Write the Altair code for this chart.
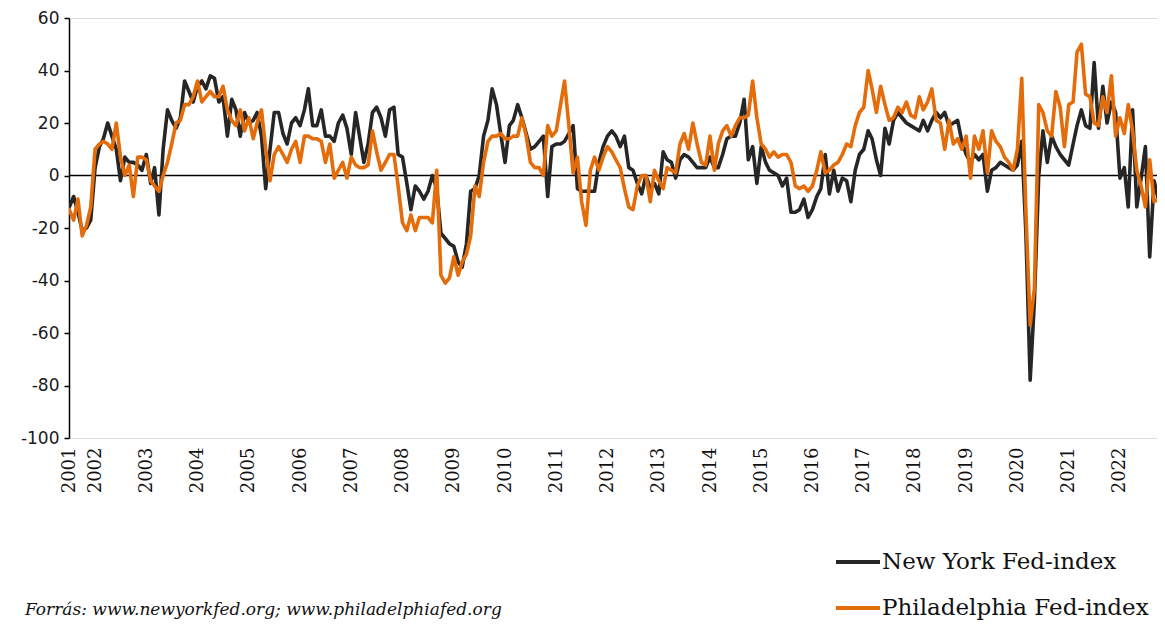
import altair as alt
import pandas as pd

# ---- data: monthly values, July 2001 - November 2022 ----
series_names = ["New York Fed-index", "Philadelphia Fed-index"]
source_text = "Forrás:  www.newyorkfed.org;  www.philadelphiafed.org"

ny_2001 = [-12, -8, -14, -21, -20, -17]
ny_2002 = [3, 11, 14, 20, 15, 10, -2, 7, 5, 5, 4, 2]
ny_2003 = [8, -3, 3, -15, 10, 25, 21, 18, 22, 36, 32, 28]
ny_2004 = [34, 36, 33, 38, 37, 28, 30, 15, 29, 25, 15, 24]
ny_2005 = [20, 21, 24, 15, -5, 10, 24, 24, 16, 12, 20, 22]
ny_2006 = [19, 25, 33, 19, 19, 25, 15, 15, 13, 20, 23, 18]
ny_2007 = [8, 24, 15, 5, 12, 24, 26, 22, 15, 25, 26, 8]
ny_2008 = [7, -3, -13, -4, -6, -9, -6, 0, -5, -22, -24, -26]
ny_2009 = [-27, -33, -35, -26, -6, -5, 0, 15, 21, 33, 27, 16]
ny_2010 = [5, 19, 21, 27, 22, 16, 10, 11, 13, 15, -8, 11]
ny_2011 = [12, 12, 13, 16, 19, -5, -6, -6, -6, -6, 5, 11]
ny_2012 = [15, 17, 15, 11, 15, 3, 2, -3, -7, 0, -5, -3]
ny_2013 = [-7, 9, 6, 5, -1, 6, 8, 7, 5, 3, 3, 3]
ny_2014 = [7, 3, 3, 8, 14, 15, 15, 20, 29, 6, 11, -3]
ny_2015 = [11, 5, 2, 1, 0, -4, -1, -14, -14, -13, -9, -16]
ny_2016 = [-13, -8, -5, 8, -7, 2, -6, -1, -2, -10, 2, 8]
ny_2017 = [10, 17, 14, 6, 0, 18, 12, 21, 24, 22, 20, 19]
ny_2018 = [18, 17, 21, 17, 21, 24, 22, 24, 19, 20, 21, 13]
ny_2019 = [8, 5, 8, 6, 8, -6, 2, 3, 5, 4, 3, 2]
ny_2020 = [4, 13, -21, -78, -48, 0, 17, 5, 15, 11, 8, 6]
ny_2021 = [4, 12, 19, 25, 19, 18, 43, 18, 34, 20, 28, 24]
ny_2022 = [-1, 3, -12, 25, -12, -1, 11, -31, -2, -9, 5]

ph_2001 = [-13, -17, -9, -23, -19, -12]
ph_2002 = [10, 12, 13, 12, 10, 20, 7, 0, 4, -8, 7, 7]
ph_2003 = [6, -2, -4, -6, 0, 5, 12, 20, 21, 27, 27, 30]
ph_2004 = [36, 28, 30, 32, 30, 30, 34, 25, 21, 19, 25, 17]
ph_2005 = [22, 14, 20, 25, 10, -2, 8, 11, 8, 5, 10, 13]
ph_2006 = [5, 15, 15, 14, 14, 13, 5, 12, -1, 2, 5, -1]
ph_2007 = [7, 4, 3, 3, 4, 17, 9, 2, 5, 8, 8, -4]
ph_2008 = [-18, -21, -15, -21, -16, -16, -16, -18, 2, -38, -41, -39]
ph_2009 = [-31, -38, -33, -30, -23, -4, -8, 5, 13, 15, 15, 16]
ph_2010 = [14, 14, 15, 15, 22, 15, 5, 3, 3, 0, 19, 15]
ph_2011 = [17, 27, 36, 19, 1, 7, -10, -19, 2, 7, 2, 7]
ph_2012 = [11, 9, 6, 3, -5, -12, -13, -4, 0, 0, -10, 2]
ph_2013 = [-2, -5, 3, 2, 1, 12, 16, 10, 20, 12, 5, 4]
ph_2014 = [15, 2, 12, 17, 19, 15, 19, 22, 22, 23, 36, 22]
ph_2015 = [12, 10, 7, 9, 7, 8, 8, 5, -4, -5, -4, -6]
ph_2016 = [-4, 2, 9, 1, 2, 4, 5, 8, 12, 11, 19, 24]
ph_2017 = [26, 40, 33, 24, 34, 27, 21, 22, 26, 24, 28, 23]
ph_2018 = [22, 30, 25, 28, 33, 21, 20, 10, 21, 12, 14, 10]
ph_2019 = [15, -1, 15, 10, 17, 1, 17, 13, 11, 7, 5, 2]
ph_2020 = [10, 37, -13, -57, -43, 27, 24, 17, 15, 32, 26, 11]
ph_2021 = [27, 28, 47, 50, 31, 30, 20, 19, 30, 24, 38, 15]
ph_2022 = [22, 16, 27, 17, 2, -4, -12, 6, -10, -9, -19]

ny_values = (ny_2001 + ny_2002 + ny_2003 + ny_2004 + ny_2005 + ny_2006 + ny_2007 +
             ny_2008 + ny_2009 + ny_2010 + ny_2011 + ny_2012 + ny_2013 + ny_2014 +
             ny_2015 + ny_2016 + ny_2017 + ny_2018 + ny_2019 + ny_2020 + ny_2021 + ny_2022)
ph_values = (ph_2001 + ph_2002 + ph_2003 + ph_2004 + ph_2005 + ph_2006 + ph_2007 +
             ph_2008 + ph_2009 + ph_2010 + ph_2011 + ph_2012 + ph_2013 + ph_2014 +
             ph_2015 + ph_2016 + ph_2017 + ph_2018 + ph_2019 + ph_2020 + ph_2021 + ph_2022)

months = pd.date_range("2001-07-01", periods=len(ny_values), freq="MS")
ny_df = pd.DataFrame({"date": months, "value": ny_values})
ph_df = pd.DataFrame({"date": months[:len(ph_values)], "value": ph_values})

tick_years = list(range(2002, 2023))
tick_values = [alt.DateTime(year=2001, month=7, date=1)] + [
    alt.DateTime(year=y, month=1, date=1) for y in tick_years
]

x_scale = alt.Scale(domain=[alt.DateTime(year=2001, month=6, date=29),
                            alt.DateTime(year=2022, month=9, date=22)])
y_scale = alt.Scale(domain=[-100, 60], nice=False, zero=False)

x_axis = alt.Axis(values=tick_values, labelExpr="timeFormat(datum.value, '%Y')",
                  labelAngle=-90, domain=False, ticks=False, grid=False,
                  labelFont="DejaVu Serif", labelFontSize=18, labelColor="#111111",
                  labelPadding=9, title=None, labelOverlap=False)
y_axis = alt.Axis(values=list(range(-100, 61, 20)), grid=False, title=None,
                  labelExpr="toString(datum.value)",
                  domainColor="#000000", domainWidth=1.5, tickColor="#000000",
                  tickSize=5, tickWidth=1.5, labelFont="DejaVu Sans",
                  labelFontSize=17, labelColor="#1a1a1a", labelPadding=5)

zero = alt.Chart(pd.DataFrame({"v": [0]})).mark_rule(
    color="#000000", strokeWidth=1.3).encode(
    y=alt.Y("v:Q", scale=y_scale, axis=y_axis))

line_style = dict(strokeWidth=3.6, strokeJoin="round", strokeCap="round", clip=True)

ny_line = alt.Chart(ny_df).mark_line(color="#262626", **line_style).encode(
    x=alt.X("date:T", scale=x_scale, axis=x_axis),
    y=alt.Y("value:Q", scale=y_scale, axis=y_axis))
ph_line = alt.Chart(ph_df).mark_line(color="#E46C0A", **line_style).encode(
    x=alt.X("date:T", scale=x_scale, axis=x_axis),
    y=alt.Y("value:Q", scale=y_scale, axis=y_axis))

# ---- legend (manual, bottom right) ----
leg_rows = []
for i, (name, col) in enumerate(zip(series_names, ["#262626", "#E46C0A"])):
    yy = 544 if i == 0 else 590
    d = pd.DataFrame({"name": [name]})
    leg_rows.append(alt.Chart(d).mark_rule(color=col, strokeWidth=4).encode(
        x=alt.value(767), x2=alt.value(811), y=alt.value(yy)))
    leg_rows.append(alt.Chart(d).mark_text(
        align="left", baseline="middle", font="DejaVu Serif", fontSize=23,
        color="#111111").encode(x=alt.value(813), y=alt.value(yy), text="name:N"))

src = alt.Chart(pd.DataFrame({"t": [source_text]})).mark_text(
    align="left", baseline="middle", font="DejaVu Serif", fontStyle="italic",
    fontSize=17, color="#111111").encode(x=alt.value(-44), y=alt.value(592), text="t:N")

chart = alt.layer(zero, ny_line, ph_line, *leg_rows, src).properties(
    width=1088, height=420,
    autosize=alt.AutoSizeParams(type="none"),
    padding={"left": 61, "top": 10, "right": 0, "bottom": 186},
).configure_view(stroke=None).configure(background="white")

chart.save("out.html", embed_options={"renderer": "svg", "actions": False})
